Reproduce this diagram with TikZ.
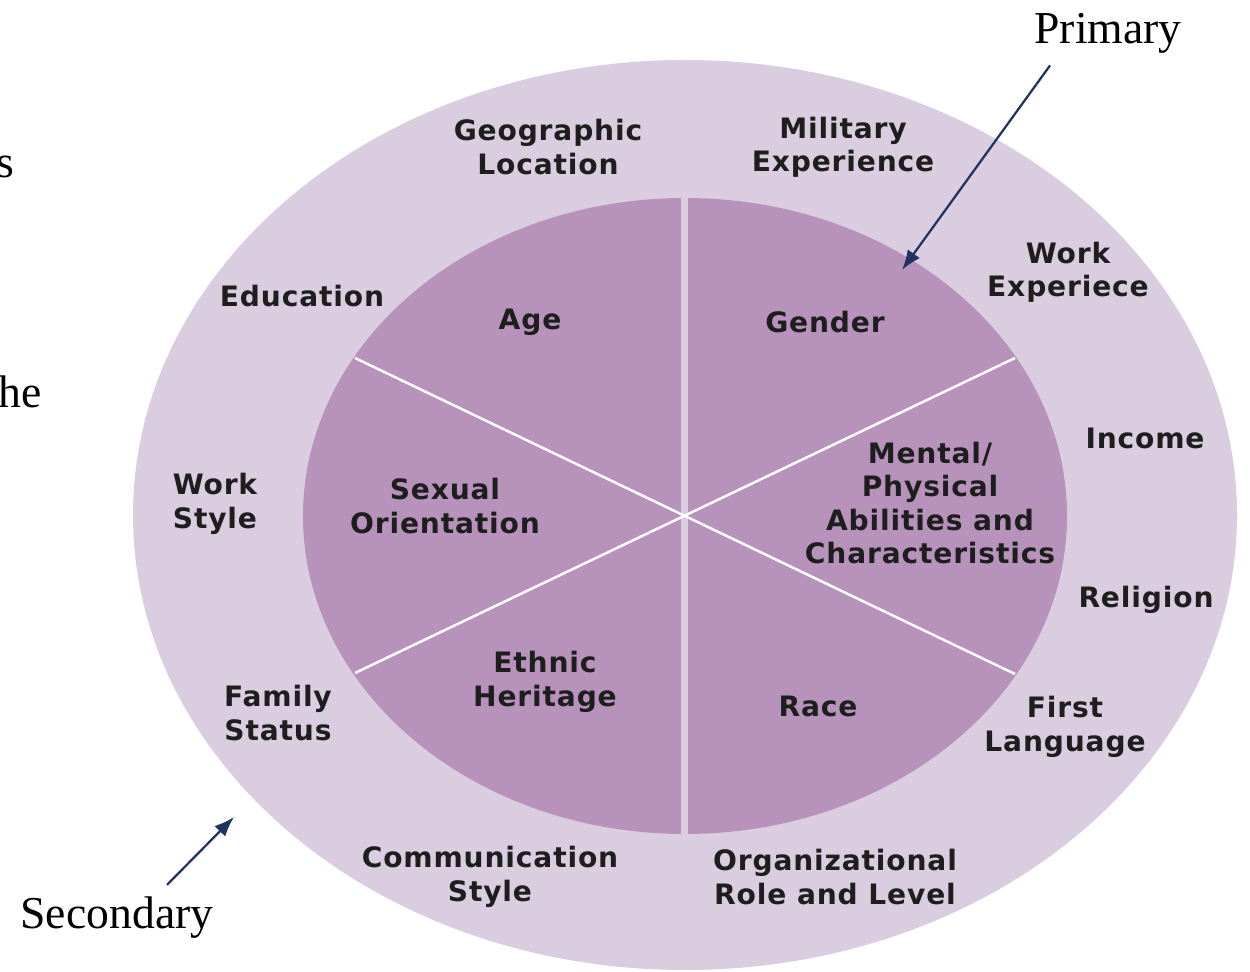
\documentclass[tikz,border=0pt]{standalone}
\usepackage{fontspec}
\setmainfont{Liberation Serif}
\newfontfamily\traitfont{DejaVu Sans}[LetterSpace=3]
\usetikzlibrary{arrows.meta}
\definecolor{outerlilac}{HTML}{DBCDE0}
\definecolor{innerlilac}{HTML}{B793BB}
\definecolor{pointernavy}{HTML}{1F3461}
\definecolor{traitink}{HTML}{1E1E1E}

\begin{document}
\begin{tikzpicture}[x=0.02cm,y=-0.02cm]

    \tikzset{
      trait/.style={
        align=center,
        text=traitink,
        inner sep=0pt,
        font=\traitfont\bfseries\fontsize{16}{19}\selectfont,
      },
      level/.style={
        inner sep=0pt,
        font=\fontsize{26}{30}\selectfont,
      },
      pointer/.style={
        draw=pointernavy,
        line width=0.045cm,
        -{Latex[length=0.4cm,width=0.3cm]},
      },
    }
    \useasboundingbox (0,0) rectangle (1250,972);

	\fill[color=outerlilac] (685,515) ellipse [x radius=552, y radius=455];
	\fill[color=innerlilac] (685,516) ellipse [x radius=382, y radius=318];
	\begin{scope}
	  \clip (685,516) ellipse [x radius=382, y radius=318];
	  \draw[color=outerlilac,line width=0.14cm] (684,190)--(684,840);
	  \draw[color=white,line width=0.05cm] (355,358)--(1015,674);
	  \draw[color=white,line width=0.05cm] (355,673)--(1015,358);
	\end{scope}

	\node[trait] (geo) at (548,147) {Geographic\\Location};
	\node[trait] (military) at (843,147) {Military\\Experience};
	\node[trait] (education) at (302,296) {Education};
	\node[trait] (age) at (530,322) {Age};
	\node[trait] (gender) at (825,322) {Gender};
	\node[trait] (workexp) at (1068,272) {Work\\Experiece};
	\node[trait] (income) at (1145,438) {Income};
	\node[trait] (abilities) at (930,503) {Mental/\\Physical\\Abilities and\\Characteristics};
	\node[trait] (workstyle) at (215,504) {Work\\Style};
	\node[trait] (orientation) at (445,506) {Sexual\\Orientation};
	\node[trait] (religion) at (1146,600) {Religion};
	\node[trait] (ethnic) at (545,682) {Ethnic\\Heritage};
	\node[trait] (race) at (818,706) {Race};
	\node[trait] (family) at (278,713) {Family\\Status};
	\node[trait] (language) at (1065,727) {First\\Language};
	\node[trait] (communication) at (490,877) {Communication\\Style};
	\node[trait] (role) at (835,877) {Organizational\\Role and Level};

	\node[level] (primary) at (1108,33) {Primary};
	\node[level] (secondary) at (117,918) {Secondary};
	\node[level,anchor=base east] (cutS) at (15,178) {s};
	\node[level,anchor=base east] (cutHe) at (42,408) {he};

	\coordinate (primarytip) at (902,270);
	\coordinate (secondarytip) at (234,817);
	\draw[pointer] ([xshift=0.32cm,yshift=-0.24cm]primary.south west)--(primarytip);
	\draw[pointer] ([xshift=1cm,yshift=0.24cm]secondary.north)--(secondarytip);

\end{tikzpicture}
\end{document}
